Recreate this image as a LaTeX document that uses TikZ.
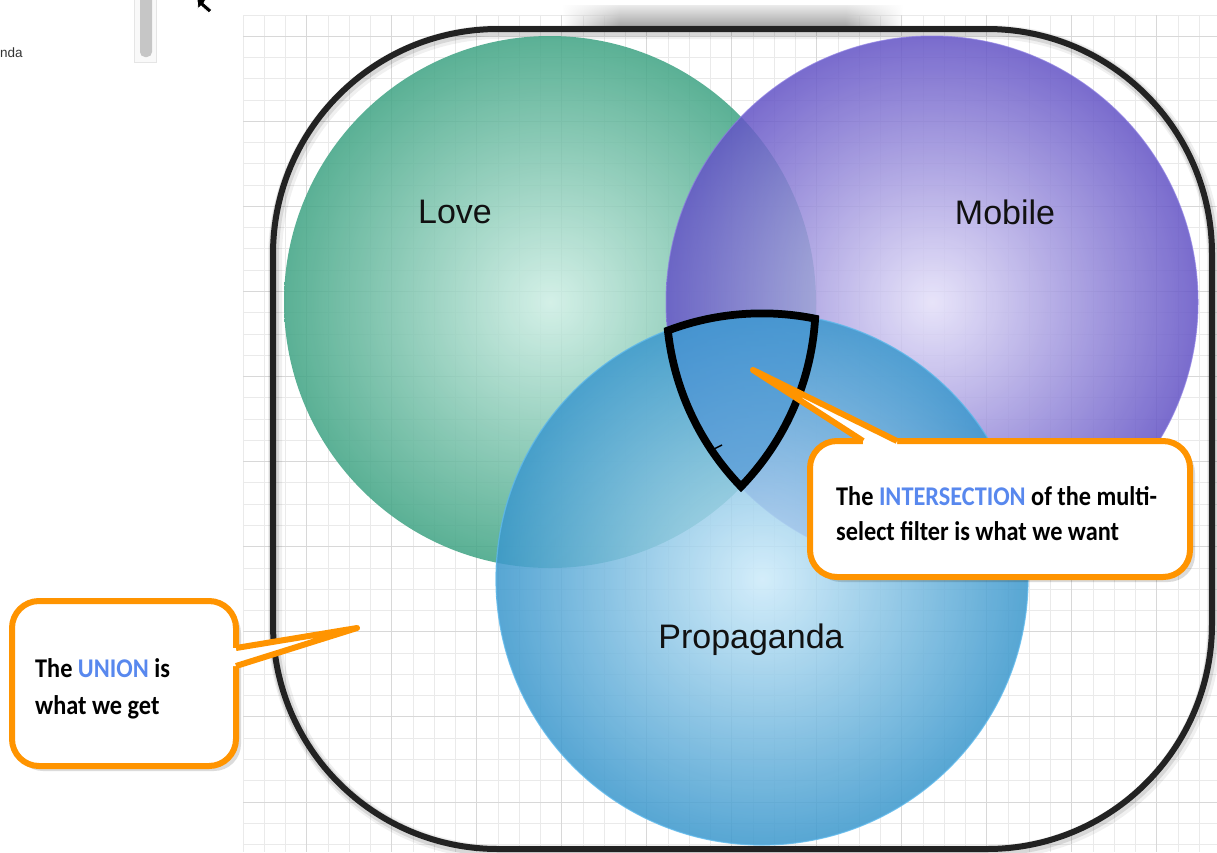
\documentclass[tikz,border=0pt]{standalone}
\usepackage{fontspec}
\setmainfont{Liberation Sans}
\newfontfamily\callfont[FakeStretch=0.9]{Carlito}
\usetikzlibrary{fadings}
\definecolor{gridminor}{RGB}{234,234,234}
\definecolor{gridmajor}{RGB}{216,216,216}
\definecolor{lovein}{RGB}{205,238,228}
\definecolor{loveout}{RGB}{64,164,132}
\definecolor{mobin}{RGB}{228,224,249}
\definecolor{mobout}{RGB}{100,84,198}
\definecolor{propin}{RGB}{205,235,250}
\definecolor{propout}{RGB}{60,152,205}
\definecolor{proprim}{RGB}{95,185,235}
\definecolor{mobrim}{RGB}{140,125,225}
\definecolor{triblue}{RGB}{72,150,212}
\definecolor{callorange}{RGB}{255,148,0}
\definecolor{callblue}{RGB}{88,136,238}
\definecolor{framecol}{RGB}{34,34,34}
\definecolor{labelcol}{RGB}{17,17,17}
\begin{document}
\begin{tikzpicture}[x=1pt,y=-1pt,
  venn/.style={opacity=0.86},
  vennlabel/.style={inner sep=0, text=labelcol, font=\fontsize{34}{40}\selectfont},
  calltext/.style={inner sep=0, anchor=base west, text=black, font=\callfont\bfseries\fontsize{27}{30}\selectfont},
  callbox/.style={draw=callorange, line width=6pt, fill=white, rounded corners=27pt},
  callshadow/.style={fill=black, opacity=0.14, rounded corners=27pt},
  pointerside/.style={draw=callorange, line width=6pt, line join=round},
  framestyle/.style={draw=framecol, line width=6pt, rounded corners=225pt},
  shadowbar/.style={top color=black!8, bottom color=black!36}]
\useasboundingbox (0,0) rectangle (1217,852);
\fill[white] (0,0) rectangle (1217,852);
% grid
\foreach \k [evaluate=\k as \gx using 243+21.25*\k] in {0,...,46}
  \draw[gridminor, line width=1pt] (\gx,15) -- (\gx,852);
\foreach \k [evaluate=\k as \gy using 15+21.27*\k] in {0,...,39}
  \draw[gridminor, line width=1pt] (243,\gy) -- (1217,\gy);
\foreach \k [evaluate=\k as \gx using 243+21.25*\k] in {3,7,...,43}
  \draw[gridmajor, line width=1pt] (\gx,15) -- (\gx,852);
\foreach \k [evaluate=\k as \gy using 15+21.27*\k] in {1,5,...,37}
  \draw[gridmajor, line width=1pt] (243,\gy) -- (1217,\gy);
% left panel bits
\draw[gray!20, fill=gray!5] (134,-2) rectangle (156,62);
\fill[gray!45, rounded corners=5pt] (140,-6) rectangle (152,57);
\node[anchor=base west, inner sep=0, text=black!80, font=\fontsize{13.5}{16}\selectfont] (nda) at (0,57) {nda};
\draw[white, line width=0.8pt, fill=black] (197,-1) -- (206,-1) -- (204,3) -- (212,10) -- (209,13) -- (201,6) -- (198,9) -- cycle;
% top shadow bar
\shade[shadowbar] (620,5) rectangle (845,27);
\shade[shadowbar, path fading=west] (562,5) rectangle (620,27);
\shade[shadowbar, path fading=east] (845,5) rectangle (903,27);
% frame with soft shadow
\draw[framestyle, draw=black, line width=14pt, opacity=0.06] (275,32) rectangle (1214,852);
\draw[framestyle, draw=black, line width=10pt, opacity=0.10] (274,31) rectangle (1213,851);
\draw[framestyle] (273,29) rectangle (1212,849);
% circles
\shade[venn, inner color=lovein, outer color=loveout] (550,302) circle (266pt);
\shade[venn, inner color=mobin, outer color=mobout] (932,302) circle (266pt);
\draw[mobrim, line width=1pt, opacity=0.7] (932,302) circle (266pt);
\shade[venn, inner color=propin, outer color=propout] (762,579) circle (266pt);
\draw[proprim, line width=1.2pt, opacity=0.8] (762,579) circle (266pt);
% intersection fill and outline
\begin{scope}
  \clip (550,302) circle (269.5pt);
  \clip (932,302) circle (269.5pt);
  \clip (762,579) circle (269.5pt);
  \fill[triblue, opacity=0.55] (600,300) rectangle (850,500);
  \draw[black, line width=8.5pt] (550,302) circle (266pt) (932,302) circle (266pt) (762,579) circle (266pt);
\end{scope}
\draw[black, line width=1.5pt] (714,449) -- (722,445);
% labels
\node[vennlabel] (love) at (455,212) {Love};
\node[vennlabel] (mobile) at (1005,212) {Mobile};
\node[vennlabel] (prop) at (751,640) {Propaganda};
% intersection callout
\coordinate (itip) at (753,370);
\fill[callshadow] (814,446) rectangle (1195,582);
\path[callbox] (810,441) rectangle (1190,577);
\fill[white] (863,449) -- (863,441) -- (itip) -- (897,441) -- (897,449) -- cycle;
\draw[pointerside] (863,441) -- (itip) -- (897,441);
\node[calltext] (i1) at (836,505) {The \textcolor{callblue}{INTERSECTION} of the multi-};
\node[calltext] (i2) at (836,540) {select filter is what we want};
% union callout
\coordinate (utip) at (357,628);
\fill[callshadow] (16,606) rectangle (241,771);
\path[callbox] (12,601) rectangle (236,766);
\fill[white] (229,648) -- (236,648) -- (utip) -- (236,666) -- (229,666) -- cycle;
\draw[pointerside] (236,648) -- (utip) -- (236,666);
\node[calltext] (u1) at (35,677) {The \textcolor{callblue}{UNION} is};
\node[calltext] (u2) at (35,714) {what we get};
\end{tikzpicture}
\end{document}
